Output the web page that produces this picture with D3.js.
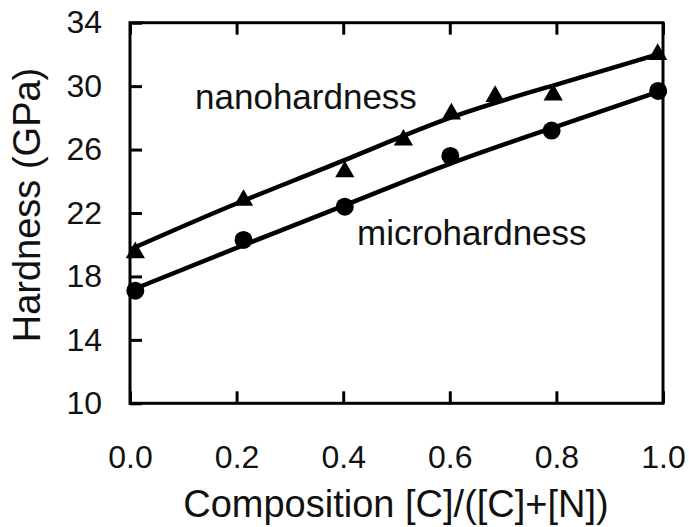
<!DOCTYPE html>
<html>
<head>
<meta charset="utf-8">
<script src="https://cdn.jsdelivr.net/npm/d3@7"></script>
<style>
  body { margin: 0; background: #fff; }
  svg { display: block; font-family: "Liberation Sans", Arial, sans-serif; }
</style>
</head>
<body>
<div id="chart"></div>
<script>
// measured points
var nanoX = [0.01, 0.213, 0.403, 0.513, 0.603, 0.685, 0.794, 0.99];
var nanoY = [19.5, 22.8, 24.6, 26.6, 28.25, 29.35, 29.45, 32.0];
var microX = [0.01, 0.213, 0.403, 0.601, 0.791, 0.991];
var microY = [17.1, 20.3, 22.4, 25.6, 27.2, 29.7];

// fitted curves
var fitX = [0, 0.2, 0.4, 0.6, 0.8, 1.0];
var nanoFit = [19.7, 22.6, 25.3, 28.0, 30.1, 32.1];
var microFit = [17.1, 19.8, 22.45, 25.1, 27.45, 29.75];

var xTicks = [0, 0.2, 0.4, 0.6, 0.8, 1.0];
var yTicks = [10, 14, 18, 22, 26, 30, 34];

var labels = ["nanohardness", "microhardness"];
var labelX = [0.122, 0.426];
var labelY = [28.56, 19.98];

var width = 689, height = 527;
var svg = d3.select("#chart").append("svg").attr("width", width).attr("height", height);
svg.append("rect").attr("width", width).attr("height", height).attr("fill", "#fff");

var x = d3.scaleLinear().domain([0, 1]).range([130, 663]);
var y = d3.scaleLinear().domain([10, 34]).range([403.3, 22.7]);

// ticks pointing inward
var xAxisB = svg.append("g").attr("transform", "translate(0," + y(10) + ")")
  .call(d3.axisBottom(x).tickValues(xTicks).tickSize(-12).tickPadding(42).tickFormat(d3.format(".1f")));
var xAxisT = svg.append("g").attr("transform", "translate(0," + y(34) + ")")
  .call(d3.axisTop(x).tickValues(xTicks).tickSize(-12).tickFormat(""));
var yAxisL = svg.append("g").attr("transform", "translate(" + x(0) + ",0)")
  .call(d3.axisLeft(y).tickValues(yTicks).tickSize(-12).tickPadding(28));

[xAxisB, xAxisT, yAxisL].forEach(function (g) {
  g.select(".domain").remove();
  g.selectAll(".tick line").attr("stroke", "#000").attr("stroke-width", 3);
  g.selectAll(".tick text").attr("fill", "#111").style("font-size", "32px");
});

svg.append("rect")
  .attr("x", x(0)).attr("y", y(34))
  .attr("width", x(1) - x(0)).attr("height", y(10) - y(34))
  .attr("fill", "none").attr("stroke", "#000").attr("stroke-width", 3);

// fit lines
var line = d3.line().x(function (d) { return x(d[0]); }).y(function (d) { return y(d[1]); }).curve(d3.curveNatural);
svg.append("path").datum(d3.zip(fitX, nanoFit)).attr("d", line)
  .attr("fill", "none").attr("stroke", "#000").attr("stroke-width", 4.5);
svg.append("path").datum(d3.zip(fitX, microFit)).attr("d", line)
  .attr("fill", "none").attr("stroke", "#000").attr("stroke-width", 4.5);

// markers
svg.selectAll(".micro").data(d3.zip(microX, microY)).enter().append("circle")
  .attr("cx", function (d) { return x(d[0]); })
  .attr("cy", function (d) { return y(d[1]); })
  .attr("r", 9).attr("fill", "#000");

svg.selectAll(".nano").data(d3.zip(nanoX, nanoY)).enter().append("path")
  .attr("d", d3.symbol().type(d3.symbolTriangle).size(160))
  .attr("transform", function (d) { return "translate(" + x(d[0]) + "," + y(d[1]) + ")"; })
  .attr("fill", "#000");

// curve labels
svg.selectAll(".lab").data(labels).enter().append("text")
  .attr("x", function (d, i) { return x(labelX[i]); })
  .attr("y", function (d, i) { return y(labelY[i]); })
  .attr("fill", "#111").style("font-size", "35px")
  .text(function (d) { return d; });

// axis titles
svg.append("text").attr("x", 396).attr("y", 517).attr("text-anchor", "middle")
  .attr("fill", "#111").style("font-size", "38px").text("Composition [C]/([C]+[N])");
svg.append("text").attr("transform", "translate(40,205) rotate(-90)").attr("text-anchor", "middle")
  .attr("fill", "#111").style("font-size", "38px").text("Hardness (GPa)");
</script>
</body>
</html>
